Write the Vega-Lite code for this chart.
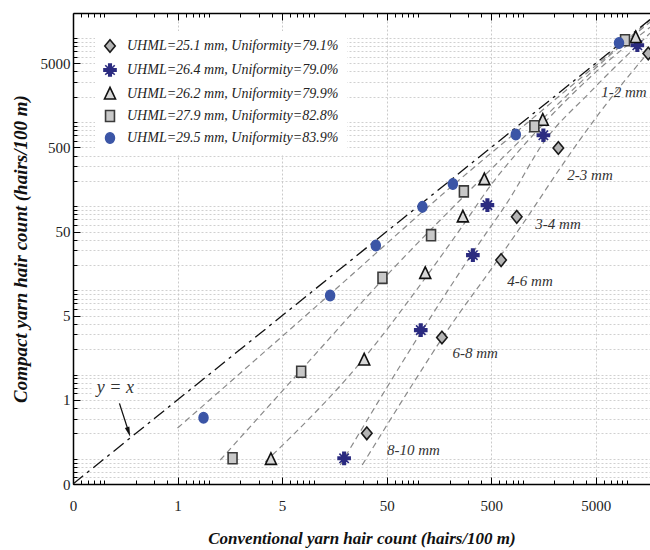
{
  "$schema": "https://vega.github.io/schema/vega-lite/v6.json",
  "autosize": {"type": "none"},
  "width": 577,
  "height": 471,
  "padding": {"left": 73, "top": 13, "right": 0, "bottom": 66},
  "background": "white",
  "config": {"view": {"stroke": null}},
  "datasets": {
    "pts": [
      {"s": "UHML=25.1 mm, Uniformity=79.1%", "x": 32.3, "y": 0.2},
      {"s": "UHML=25.1 mm, Uniformity=79.1%", "x": 169, "y": 2.75},
      {"s": "UHML=25.1 mm, Uniformity=79.1%", "x": 622, "y": 22.9},
      {"s": "UHML=25.1 mm, Uniformity=79.1%", "x": 878, "y": 74.8},
      {"s": "UHML=25.1 mm, Uniformity=79.1%", "x": 2194, "y": 493},
      {"s": "UHML=25.1 mm, Uniformity=79.1%", "x": 15900, "y": 6520},
      {"s": "UHML=26.4 mm, Uniformity=79.0%", "x": 19.6, "y": 0.101},
      {"s": "UHML=26.4 mm, Uniformity=79.0%", "x": 106, "y": 3.37},
      {"s": "UHML=26.4 mm, Uniformity=79.0%", "x": 334, "y": 26.2},
      {"s": "UHML=26.4 mm, Uniformity=79.0%", "x": 460, "y": 103},
      {"s": "UHML=26.4 mm, Uniformity=79.0%", "x": 1578, "y": 698},
      {"s": "UHML=26.4 mm, Uniformity=79.0%", "x": 12500, "y": 8180},
      {"s": "UHML=26.2 mm, Uniformity=79.9%", "x": 3.91, "y": 0.098},
      {"s": "UHML=26.2 mm, Uniformity=79.9%", "x": 30.5, "y": 1.49},
      {"s": "UHML=26.2 mm, Uniformity=79.9%", "x": 117, "y": 15.9},
      {"s": "UHML=26.2 mm, Uniformity=79.9%", "x": 268, "y": 74.8},
      {"s": "UHML=26.2 mm, Uniformity=79.9%", "x": 430, "y": 207},
      {"s": "UHML=26.2 mm, Uniformity=79.9%", "x": 1557, "y": 1052},
      {"s": "UHML=26.2 mm, Uniformity=79.9%", "x": 12060, "y": 10100},
      {"s": "UHML=27.9 mm, Uniformity=82.8%", "x": 1.68, "y": 0.101},
      {"s": "UHML=27.9 mm, Uniformity=82.8%", "x": 7.61, "y": 1.08},
      {"s": "UHML=27.9 mm, Uniformity=82.8%", "x": 45.6, "y": 14.1},
      {"s": "UHML=27.9 mm, Uniformity=82.8%", "x": 133, "y": 45.3},
      {"s": "UHML=27.9 mm, Uniformity=82.8%", "x": 274, "y": 150},
      {"s": "UHML=27.9 mm, Uniformity=82.8%", "x": 1294, "y": 893},
      {"s": "UHML=27.9 mm, Uniformity=82.8%", "x": 9530, "y": 9380},
      {"s": "UHML=29.5 mm, Uniformity=83.9%", "x": 0.886, "y": 0.307},
      {"s": "UHML=29.5 mm, Uniformity=83.9%", "x": 14.4, "y": 8.71},
      {"s": "UHML=29.5 mm, Uniformity=83.9%", "x": 39.4, "y": 34.2},
      {"s": "UHML=29.5 mm, Uniformity=83.9%", "x": 110, "y": 98.3},
      {"s": "UHML=29.5 mm, Uniformity=83.9%", "x": 215, "y": 184},
      {"s": "UHML=29.5 mm, Uniformity=83.9%", "x": 860, "y": 712},
      {"s": "UHML=29.5 mm, Uniformity=83.9%", "x": 8350, "y": 8710}
    ],
    "fits": [
      {"s": "A", "x": 29.2, "y": 0.0841},
      {"s": "A", "x": 97.8, "y": 0.933},
      {"s": "A", "x": 170, "y": 2.71},
      {"s": "A", "x": 622, "y": 26.2},
      {"s": "A", "x": 1177, "y": 82.7},
      {"s": "A", "x": 2279, "y": 283},
      {"s": "A", "x": 5497, "y": 1310},
      {"s": "A", "x": 16520, "y": 7130},
      {"s": "B", "x": 18.0, "y": 0.0841},
      {"s": "B", "x": 107, "y": 3.19},
      {"s": "B", "x": 336, "y": 28.5},
      {"s": "B", "x": 758, "y": 125},
      {"s": "B", "x": 1568, "y": 561},
      {"s": "B", "x": 4410, "y": 2262},
      {"s": "B", "x": 16520, "y": 11360},
      {"s": "C", "x": 3.45, "y": 0.0913},
      {"s": "C", "x": 30.5, "y": 1.57},
      {"s": "C", "x": 117, "y": 14.0},
      {"s": "C", "x": 269, "y": 59.6},
      {"s": "C", "x": 488, "y": 173},
      {"s": "C", "x": 1568, "y": 943},
      {"s": "C", "x": 5497, "y": 4361},
      {"s": "C", "x": 16520, "y": 13380},
      {"s": "D", "x": 1.28, "y": 0.0964},
      {"s": "D", "x": 7.61, "y": 1.13},
      {"s": "D", "x": 45.3, "y": 13.2},
      {"s": "D", "x": 275, "y": 132},
      {"s": "D", "x": 1286, "y": 869},
      {"s": "D", "x": 9530, "y": 8880},
      {"s": "D", "x": 16520, "y": 15340},
      {"s": "E", "x": 0.5, "y": 0.231},
      {"s": "E", "x": 14.4, "y": 9.03},
      {"s": "E", "x": 216, "y": 178},
      {"s": "E", "x": 865, "y": 758},
      {"s": "E", "x": 16520, "y": 16210}
    ],
    "yx": [{"x": 0.05, "y": 0.05}, {"x": 16520, "y": 16520}],
    "labs": [
      {"t": "1-2 mm", "x": 9300, "y": 2280},
      {"t": "2-3 mm", "x": 4410, "y": 234},
      {"t": "3-4 mm", "x": 2180, "y": 61.2},
      {"t": "4-6 mm", "x": 1177, "y": 13.0},
      {"t": "6-8 mm", "x": 351, "y": 1.8},
      {"t": "8-10 mm", "x": 90.2, "y": 0.127}
    ],
    "yxlab": [{"t": "y = x", "x": 0.127, "y": 0.69}],
    "box": [{"x": 0.078, "x2": 0.206, "y": 0.525, "y2": 0.86}],
    "arrow": [{"x": 0.139, "y": 0.454}, {"x": 0.168, "y": 0.22}],
    "head": [{"x": 0.170, "y": 0.209}]
  },
  "layer": [
    {
      "data": {"name": "box"},
      "mark": {"type": "rect", "fill": "white"},
      "encoding": {
        "x": {"field": "x", "type": "quantitative", "scale": {"type": "log", "domain": [0.05, 16520], "nice": false}, "axis": null},
        "x2": {"field": "x2"},
        "y": {"field": "y", "type": "quantitative", "scale": {"type": "log", "domain": [0.05, 19790], "nice": false}, "axis": null},
        "y2": {"field": "y2"}
      }
    },
    {
      "data": {"name": "fits"},
      "mark": {"type": "line", "color": "#8a8a8a", "strokeWidth": 1.2, "strokeDash": [6, 4], "interpolate": "monotone", "clip": true},
      "encoding": {
        "x": {"field": "x", "type": "quantitative", "scale": {"type": "log", "domain": [0.05, 16520], "nice": false}, "axis": null},
        "y": {"field": "y", "type": "quantitative", "scale": {"type": "log", "domain": [0.05, 19790], "nice": false}, "axis": null},
        "detail": {"field": "s", "type": "nominal"}
      }
    },
    {
      "data": {"name": "yx"},
      "mark": {"type": "line", "color": "#111111", "strokeWidth": 1.3, "strokeDash": [13, 5, 3, 5], "clip": true},
      "encoding": {
        "x": {"field": "x", "type": "quantitative", "scale": {"type": "log", "domain": [0.05, 16520], "nice": false},
          "axis": {"orient": "top", "values": [0.05,0.06,0.07,0.08,0.09,0.1,0.2,0.3,0.4,0.5,0.6,0.7,0.8,0.9,1,2,3,4,5,6,7,8,9,10,20,30,40,50,60,70,80,90,100,200,300,400,500,600,700,800,900,1000,2000,3000,4000,5000,6000,7000,8000,9000,10000],
            "labels": false, "title": null, "grid": false, "domainColor": "#000000", "domainWidth": 1.5, "tickColor": "#000000", "tickWidth": 1,
            "tickSize": {"condition": {"test": "indexof([0.05,0.5,5,50,500,5000], datum.value) >= 0", "value": -7}, "value": -4}}},
        "y": {"field": "y", "type": "quantitative", "scale": {"type": "log", "domain": [0.05, 19790], "nice": false}, "axis": null}
      }
    },
    {
      "data": {"name": "arrow"},
      "mark": {"type": "line", "color": "#111111", "strokeWidth": 1.3},
      "encoding": {
        "x": {"field": "x", "type": "quantitative", "scale": {"type": "log", "domain": [0.05, 16520], "nice": false}, "axis": null},
        "y": {"field": "y", "type": "quantitative", "scale": {"type": "log", "domain": [0.05, 19790], "nice": false}, "axis": null}
      }
    },
    {
      "data": {"name": "head"},
      "mark": {"type": "point", "shape": "M0,1L-0.45,-0.9L0.45,-0.9Z", "filled": true, "color": "#111111", "size": 110, "angle": 342, "opacity": 1},
      "encoding": {
        "x": {"field": "x", "type": "quantitative", "scale": {"type": "log", "domain": [0.05, 16520], "nice": false}, "axis": null},
        "y": {"field": "y", "type": "quantitative", "scale": {"type": "log", "domain": [0.05, 19790], "nice": false}, "axis": null}
      }
    },
    {
      "data": {"name": "pts"},
      "mark": {"type": "point", "filled": true, "size": 110, "strokeWidth": 1.6, "opacity": 1, "clip": true},
      "encoding": {
        "x": {"field": "x", "type": "quantitative", "scale": {"type": "log", "domain": [0.05, 16520], "nice": false},
          "axis": {"orient": "bottom", "values": [0.05,0.06,0.07,0.08,0.09,0.1,0.2,0.3,0.4,0.5,0.6,0.7,0.8,0.9,1,2,3,4,5,6,7,8,9,10,20,30,40,50,60,70,80,90,100,200,300,400,500,600,700,800,900,1000,2000,3000,4000,5000,6000,7000,8000,9000,10000],
            "labelExpr": "datum.value == 0.05 ? '0' : datum.value == 0.5 ? '1' : (indexof([5,50,500,5000], datum.value) >= 0 ? format(datum.value, 'd') : '')",
            "labelOverlap": false, "labelFlush": false, "labelFont": "Liberation Serif", "labelFontSize": 15, "labelColor": "#222222", "labelPadding": 21,
            "grid": true, "gridColor": "#bdbdbd", "gridDash": [2, 2], "gridWidth": 0.8,
            "gridOpacity": {"condition": {"test": "indexof([0.5,5,50,500,5000], datum.value) >= 0", "value": 1}, "value": 0},
            "domainColor": "#000000", "domainWidth": 1.5, "tickColor": "#000000", "tickWidth": 1,
            "tickSize": {"condition": {"test": "indexof([0.05,0.5,5,50,500,5000], datum.value) >= 0", "value": -7}, "value": -4},
            "title": "Conventional yarn hair count (hairs/100 m)", "titleFont": "Liberation Serif", "titleFontStyle": "italic", "titleFontWeight": "bold", "titleFontSize": 17, "titleColor": "#111111", "titlePadding": 14}},
        "y": {"field": "y", "type": "quantitative", "scale": {"type": "log", "domain": [0.05, 19790], "nice": false},
          "axis": {"orient": "left", "values": [0.05,0.06,0.07,0.08,0.09,0.1,0.2,0.3,0.4,0.5,0.6,0.7,0.8,0.9,1,2,3,4,5,6,7,8,9,10,20,30,40,50,60,70,80,90,100,200,300,400,500,600,700,800,900,1000,2000,3000,4000,5000,6000,7000,8000,9000,10000],
            "labelExpr": "datum.value == 0.05 ? '0' : datum.value == 0.5 ? '1' : (indexof([5,50,500,5000], datum.value) >= 0 ? format(datum.value, 'd') : '')",
            "labelOverlap": false, "labelFlush": false, "labelFont": "Liberation Serif", "labelFontSize": 15, "labelColor": "#222222", "labelPadding": 10,
            "grid": true, "gridColor": "#c4c4c4", "gridDash": [2, 2], "gridWidth": 0.8,
            "domainColor": "#000000", "domainWidth": 1.5, "tickColor": "#000000", "tickWidth": 1,
            "tickSize": {"condition": {"test": "indexof([0.05,0.5,5,50,500,5000], datum.value) >= 0", "value": -7}, "value": -4},
            "title": "Compact yarn hair count (hairs/100 m)", "titleFont": "Liberation Serif", "titleFontStyle": "italic", "titleFontWeight": "bold", "titleFontSize": 19, "titleColor": "#111111", "titlePadding": 10}},
        "shape": {"field": "s", "type": "nominal",
          "scale": {"domain": ["UHML=25.1 mm, Uniformity=79.1%", "UHML=26.4 mm, Uniformity=79.0%", "UHML=26.2 mm, Uniformity=79.9%", "UHML=27.9 mm, Uniformity=82.8%", "UHML=29.5 mm, Uniformity=83.9%"],
            "range": ["M0,-1.2L1,0L0,1.2L-1,0Z", "M-0.24,-1.15H0.24V-0.24H1.15V0.24H0.24V1.15H-0.24V0.24H-1.15V-0.24H-0.24ZM-0.9,-0.9L0.9,0.9M-0.9,0.9L0.9,-0.9", "M0,-1.25L1.05,0.95L-1.05,0.95Z", "M-0.85,-1.05H0.85V1.05H-0.85Z", "M0,-1A0.85,1 0 1,1 0,1A0.85,1 0 1,1 0,-1Z"]},
          "legend": {"orient": "none", "legendX": 22, "legendY": 18, "title": null, "fillColor": "white", "padding": 8, "labelFont": "Liberation Serif", "labelFontStyle": "italic", "labelFontSize": 14, "labelColor": "#222222", "labelLimit": 400, "symbolSize": 110, "symbolStrokeWidth": 1.6, "rowPadding": 4, "labelOffset": 10}},
        "fill": {"field": "s", "type": "nominal",
          "scale": {"domain": ["UHML=25.1 mm, Uniformity=79.1%", "UHML=26.4 mm, Uniformity=79.0%", "UHML=26.2 mm, Uniformity=79.9%", "UHML=27.9 mm, Uniformity=82.8%", "UHML=29.5 mm, Uniformity=83.9%"],
            "range": ["#b4b4b4", "#2b2b80", "#d8d8d8", "#c8c8c8", "#3b55a6"]},
          "legend": {"orient": "none", "legendX": 22, "legendY": 18, "title": null, "fillColor": "white", "padding": 8, "labelFont": "Liberation Serif", "labelFontStyle": "italic", "labelFontSize": 14, "labelColor": "#222222", "labelLimit": 400, "symbolSize": 110, "symbolStrokeWidth": 1.6, "rowPadding": 4, "labelOffset": 10}},
        "stroke": {"field": "s", "type": "nominal",
          "scale": {"domain": ["UHML=25.1 mm, Uniformity=79.1%", "UHML=26.4 mm, Uniformity=79.0%", "UHML=26.2 mm, Uniformity=79.9%", "UHML=27.9 mm, Uniformity=82.8%", "UHML=29.5 mm, Uniformity=83.9%"],
            "range": ["#1a1a1a", "#2b2b80", "#111111", "#3a3a3a", "#3b55a6"]},
          "legend": {"orient": "none", "legendX": 22, "legendY": 18, "title": null, "fillColor": "white", "padding": 8, "labelFont": "Liberation Serif", "labelFontStyle": "italic", "labelFontSize": 14, "labelColor": "#222222", "labelLimit": 400, "symbolSize": 110, "symbolStrokeWidth": 1.6, "rowPadding": 4, "labelOffset": 10}}
      }
    },
    {
      "data": {"name": "labs"},
      "mark": {"type": "text", "font": "Liberation Serif", "fontStyle": "italic", "fontSize": 15, "color": "#333333", "align": "center", "baseline": "middle"},
      "encoding": {
        "x": {"field": "x", "type": "quantitative", "scale": {"type": "log", "domain": [0.05, 16520], "nice": false}, "axis": null},
        "y": {"field": "y", "type": "quantitative", "scale": {"type": "log", "domain": [0.05, 19790], "nice": false}, "axis": null},
        "text": {"field": "t", "type": "nominal"}
      }
    },
    {
      "data": {"name": "yxlab"},
      "mark": {"type": "text", "font": "Liberation Serif", "fontStyle": "italic", "fontSize": 18, "color": "#333333", "align": "center", "baseline": "middle"},
      "encoding": {
        "x": {"field": "x", "type": "quantitative", "scale": {"type": "log", "domain": [0.05, 16520], "nice": false}, "axis": null},
        "y": {"field": "y", "type": "quantitative", "scale": {"type": "log", "domain": [0.05, 19790], "nice": false}, "axis": null},
        "text": {"field": "t", "type": "nominal"}
      }
    }
  ],
  "resolve": {"axis": {"x": "independent", "y": "independent"}}
}
